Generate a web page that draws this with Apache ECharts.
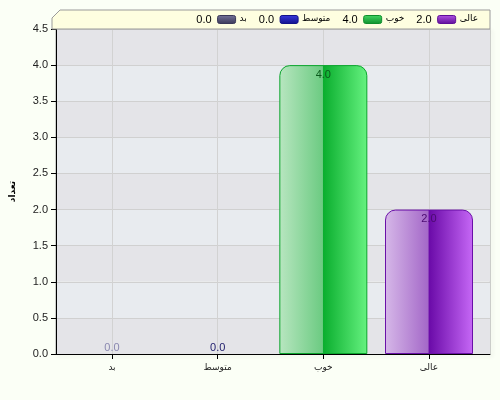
<!DOCTYPE html>
<html><head><meta charset="utf-8">
<script src="https://cdn.jsdelivr.net/npm/echarts@6/dist/echarts.min.js"></script>
<style>html,body{margin:0;padding:0;background:#fbfff6}#c{width:500px;height:400px}</style>
</head><body><div id="c"></div>
<script>
var categories = ['بد', 'متوسط', 'خوب', 'عالی'];
var values = [0, 0, 4, 2];
var yTicks = [0, 0.5, 1, 1.5, 2, 2.5, 3, 3.5, 4, 4.5];
var axisTitle = 'تعداد';

var FONT = '"Liberation Sans", "DejaVu Sans", Arial, sans-serif';
var AFONT = '"DejaVu Sans", sans-serif';
var barStyles = [
  {l0:'#c8c6dc', l1:'#9a98b8', r0:'#5a587a', r1:'#a8a6d0', border:'#5a587a', label:'#8a88b0', sw:'#76749a', swb:'#3a3858'},
  {l0:'#b8b8f0', l1:'#6a6ad8', r0:'#1a1aa0', r1:'#6a6af8', border:'#1a1a90', label:'#1c1a6a', sw:'#3a3ae0', swb:'#12128a'},
  {l0:'#b8e6c0', l1:'#6ccb82', r0:'#0aae2e', r1:'#66f280', border:'#0aa52c', label:'#0b5a1c', sw:'#44d865', swb:'#0e8e2c'},
  {l0:'#d6b8e8', l1:'#a468c8', r0:'#6a0aa8', r1:'#c668f6', border:'#6a10a8', label:'#4a0a70', sw:'#b254e4', swb:'#5e0e98'}
];

function grad(s){
  return {type:'linear', x:0, y:0, x2:1, y2:0, colorStops:[
    {offset:0, color:s.l0},{offset:0.49, color:s.l1},{offset:0.5, color:s.r0},{offset:1, color:s.r1}]};
}

var seriesData = values.map(function(v, i){
  var s = barStyles[i];
  return {
    value: v,
    itemStyle: v === 0 ? {color: 'rgba(0,0,0,0)', borderWidth: 0} :
      {color: grad(s), borderColor: s.border, borderWidth: 1, borderRadius: [10,10,0,0]},
    label: {show: true, position: v === 0 ? 'top' : 'insideTop', distance: v === 0 ? 1 : 4, color: s.label,
      fontSize: 11, fontFamily: FONT, formatter: function(p){ return Number(p.value).toFixed(1); }}
  };
});

// legend built as graphic (value, swatch, name), laid out right-to-left
var ctx = document.createElement('canvas').getContext('2d');
var legendEls = [{
  type:'polygon', shape:{points:[[52,18],[60,10],[490,10],[490,29],[52,29]]},
  style:{fill:'#fefee0', stroke:'#9a9a9a', lineWidth:1}, z:10
}];
var cursor = 478;
for (var i = categories.length - 1; i >= 0; i--) {
  var s = barStyles[i];
  ctx.font = '9px ' + AFONT;
  var nw = ctx.measureText(categories[i]).width;
  legendEls.push({type:'text', x:cursor, y:18.5, z:11, style:{text:categories[i], fill:'#000', font:'9px ' + AFONT, align:'right', verticalAlign:'middle'}});
  cursor -= nw + 4;
  legendEls.push({type:'rect', shape:{x:cursor-18, y:15.5, width:18, height:8, r:2}, z:11,
    style:{fill:{type:'linear',x:0,y:0,x2:0,y2:1,colorStops:[{offset:0,color:s.sw},{offset:1,color:s.swb}]}, stroke:s.swb, lineWidth:1}});
  cursor -= 18 + 6;
  var vt = values[i].toFixed(1);
  ctx.font = '11px ' + FONT;
  legendEls.push({type:'text', x:cursor, y:19.5, z:11, style:{text:vt, fill:'#000', font:'11px ' + FONT, align:'right', verticalAlign:'middle'}});
  cursor -= ctx.measureText(vt).width + 12;
}

var chart = echarts.init(document.getElementById('c'));
chart.setOption({
  backgroundColor: '#fbfff6',
  animation: false,
  textStyle: {fontFamily: FONT},
  grid: [
    {left: 52, right: 10, top: 29, bottom: 46, show: true, borderColor: '#a0a0a0', borderWidth: 1, backgroundColor: 'transparent',
     shadowColor: 'rgba(0,0,0,0.12)', shadowBlur: 4, shadowOffsetX: 2, shadowOffsetY: 2},
    {left: 112, right: 71, top: 29, bottom: 46}
  ],
  xAxis: [
    {gridIndex: 0, type: 'value', min: 0, max: 1, axisLine: {show: true, onZero: false, lineStyle: {color: '#000', width: 1}},
     axisTick: {show: false}, axisLabel: {show: false}, splitLine: {show: false}},
    {gridIndex: 1, type: 'category', data: categories, boundaryGap: false,
     axisLine: {show: false}, axisTick: {show: true, length: 5, lineStyle: {color: '#000'}},
     axisLabel: {color: '#222', fontSize: 9, fontFamily: AFONT, margin: 9},
     splitLine: {show: true, lineStyle: {color: '#d2d2d2'}}}
  ],
  yAxis: [
    {gridIndex: 0, type: 'value', min: yTicks[0], max: yTicks[yTicks.length-1], interval: 0.5,
     name: axisTitle, nameLocation: 'middle', nameGap: 39, nameRotate: 90,
     nameTextStyle: {fontWeight: 'bold', fontSize: 9, color: '#000', fontFamily: AFONT},
     axisLine: {show: true, lineStyle: {color: '#000'}}, axisTick: {show: true, length: 5, lineStyle: {color: '#000'}},
     axisLabel: {color: '#222', fontSize: 11, fontFamily: FONT, margin: 8, formatter: function(v){ return v.toFixed(1); }},
     splitLine: {show: true, lineStyle: {color: '#d0d0d0'}},
     splitArea: {show: true, areaStyle: {color: ['#e4e4e8', '#e8ebef']}}},
    {gridIndex: 1, type: 'value', min: yTicks[0], max: yTicks[yTicks.length-1], show: false}
  ],
  series: [{
    type: 'bar', xAxisIndex: 1, yAxisIndex: 1, barWidth: 88, clip: false, data: seriesData, z: 5
  }],
  graphic: legendEls
});
</script></body></html>
